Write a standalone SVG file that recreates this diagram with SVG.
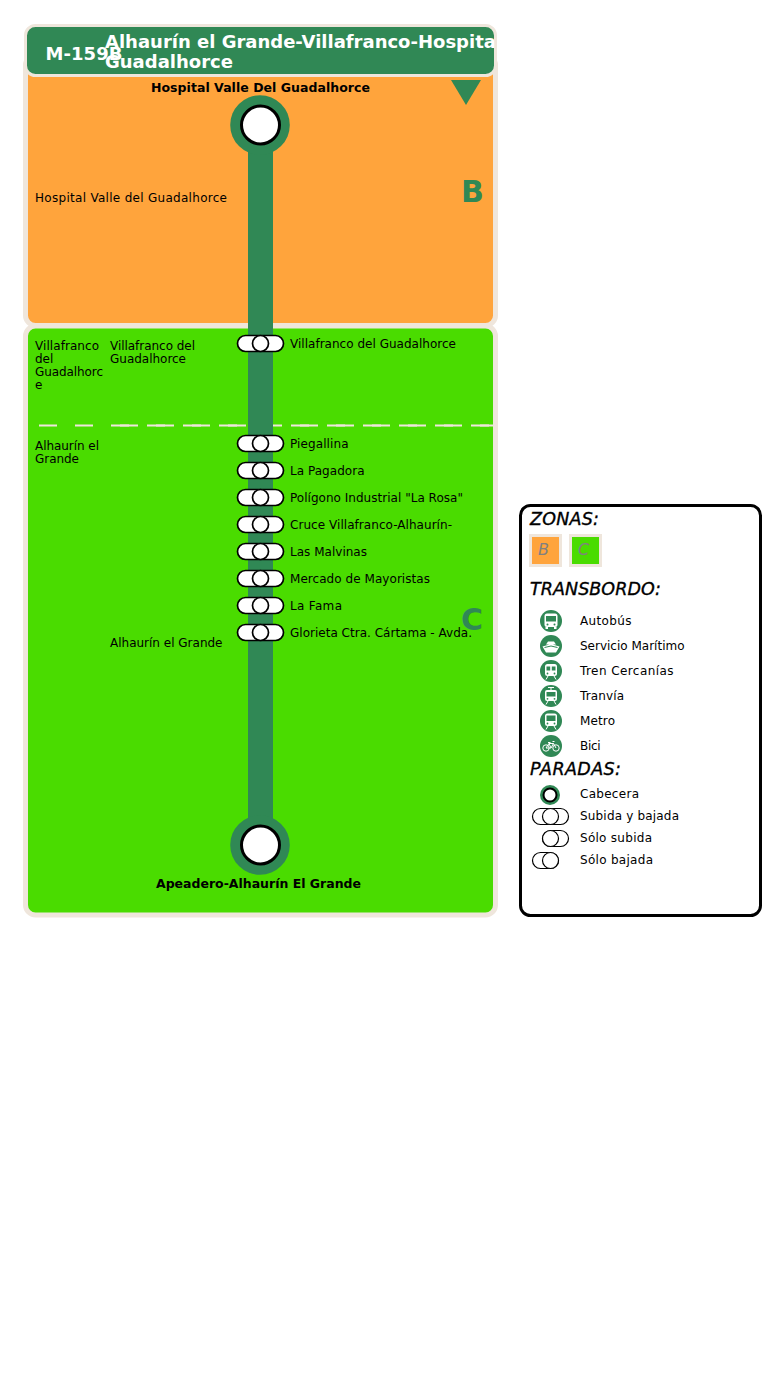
<svg xmlns="http://www.w3.org/2000/svg" width="780" height="1390" viewBox="0 0 780 1390">
<style>
text{font-family:"DejaVu Sans",sans-serif;fill:#000}
.s{font-size:12px}
.b{font-size:12.5px;font-weight:bold}
.t{font-size:18px;font-weight:bold;fill:#fff}
.h{font-size:17.5px;font-style:italic;stroke:#000;stroke-width:.35}
.z{fill:#ffa43c;stroke:#efe6dc;stroke-width:5}
.g{fill:#4adc00;stroke:#efe6dc;stroke-width:5}
.big{font-size:30px;font-weight:bold;fill:#308855}
.lz{font-size:16px;font-style:italic;fill:#808080}
.st{fill:#fff;stroke:#000;stroke-width:1.7}
.lg{fill:#fff;stroke:#000;stroke-width:1.2}
.ic{fill:#308855}
.w{fill:#fff}
.wl{fill:none;stroke:#fff;stroke-width:1}
.dash{fill:none;stroke:#efe6dc;stroke-width:2;stroke-dasharray:18 18}
</style>
<defs>
<clipPath id="hc"><rect x="25" y="24" width="469.500" height="52"/></clipPath>
<g id="stop"><rect class="st" x="-23" y="-8" width="46" height="16" rx="8"/><circle class="st" cx="0" cy="0" r="8"/></g>
<g id="head"><circle cx="-.5" r="29.800" fill="#308855"/><circle r="19" fill="#fff" stroke="#000" stroke-width="3"/></g>
</defs>
<g id="zone-b"><rect class="z" x="25.500" y="55" width="470" height="270.500" rx="10"/><text class="big" x="461" y="202">B</text></g>
<g id="zone-c"><rect class="g" x="25.500" y="326" width="470" height="589" rx="10"/><text class="big" x="461" y="630">C</text></g>
<g id="zone-divider"><path class="dash" d="M39 425.500H494"/><path class="dash" d="M120 425.500H494"/></g>
<g id="header"><rect x="25.500" y="25.500" width="470" height="50" rx="10" fill="#308855" stroke="#efe6dc" stroke-width="3"/>
<text class="t" x="45.500" y="60" textLength="77">M-159B</text>
<g clip-path="url(#hc)"><text class="t" x="105" y="48">Alhaurín el Grande-Villafranco-Hospital Valle del</text></g>
<text class="t" x="105" y="68" textLength="128">Guadalhorce</text></g>
<polygon id="direction" points="451,80 481,80 466,105" fill="#308855"/>
<g id="connectors"><rect x="248" y="125" width="25" height="720" fill="#308855"/></g>
<g id="stop-hospital"><use href="#head" x="260.500" y="125"/><text class="b" x="151" y="92" textLength="219">Hospital Valle Del Guadalhorce</text></g>
<g id="stop-apeadero"><use href="#head" x="260.500" y="845"/><text class="b" x="156" y="888" textLength="205">Apeadero-Alhaurín El Grande</text></g>
<g id="stop-1"><use href="#stop" x="260.500" y="343.500"/><text class="s" x="290" y="348" textLength="166">Villafranco del Guadalhorce</text></g>
<g id="stop-2"><use href="#stop" x="260.500" y="443.500"/><text class="s" x="290" y="448" textLength="58.500">Piegallina</text></g>
<g id="stop-3"><use href="#stop" x="260.500" y="470.500"/><text class="s" x="290" y="475" textLength="74.500">La Pagadora</text></g>
<g id="stop-4"><use href="#stop" x="260.500" y="497.500"/><text class="s" x="290" y="502" textLength="173">Polígono Industrial "La Rosa"</text></g>
<g id="stop-5"><use href="#stop" x="260.500" y="524.500"/><text class="s" x="290" y="529" textLength="162">Cruce Villafranco-Alhaurín-</text></g>
<g id="stop-6"><use href="#stop" x="260.500" y="551.500"/><text class="s" x="290" y="556" textLength="77">Las Malvinas</text></g>
<g id="stop-7"><use href="#stop" x="260.500" y="578.500"/><text class="s" x="290" y="583" textLength="140">Mercado de Mayoristas</text></g>
<g id="stop-8"><use href="#stop" x="260.500" y="605.500"/><text class="s" x="290" y="610" textLength="52">La Fama</text></g>
<g id="stop-9"><use href="#stop" x="260.500" y="632.500"/><text class="s" x="290" y="637" textLength="182">Glorieta Ctra. Cártama - Avda.</text></g>
<g id="labels">
<text class="s" x="35" y="202" textLength="192">Hospital Valle del Guadalhorce</text>
<text class="s" x="35" y="350" textLength="64">Villafranco</text><text class="s" x="35" y="363">del</text><text class="s" x="35" y="376" textLength="68">Guadalhorc</text><text class="s" x="35" y="389">e</text>
<text class="s" x="110" y="350" textLength="85">Villafranco del</text><text class="s" x="110" y="363" textLength="76">Guadalhorce</text>
<text class="s" x="35" y="450" textLength="64">Alhaurín el</text><text class="s" x="35" y="463" textLength="44">Grande</text>
<text class="s" x="110" y="647" textLength="112.500">Alhaurín el Grande</text>
</g>
<g id="legend">
<rect x="520.500" y="505.500" width="240" height="410" rx="10" fill="#fff" stroke="#000" stroke-width="3"/>
<text class="h" x="530" y="525" textLength="69">ZONAS:</text>
<rect class="z" x="530.500" y="535.500" width="30" height="30" style="stroke-width:3"/><text class="lz" x="538" y="555">B</text>
<rect class="g" x="570.500" y="535.500" width="30" height="30" style="stroke-width:3"/><text class="lz" x="578" y="555">C</text>
<text class="h" x="530" y="595" textLength="131">TRANSBORDO:</text>
<g id="ic-bus"><circle class="ic" cx="551" cy="621" r="11"/><rect class="w" x="544.500" y="613.500" width="13" height="13.500" rx="2.500"/><rect class="ic" x="546" y="616" width="10" height="5.500"/><circle class="ic" cx="547.500" cy="624.500" r="1"/><circle class="ic" cx="554.500" cy="624.500" r="1"/><rect class="w" x="545.500" y="627" width="2.500" height="2"/><rect class="w" x="554" y="627" width="2.500" height="2"/></g>
<text class="s" x="580" y="625" textLength="51.500">Autobús</text>
<g id="ic-boat"><circle class="ic" cx="551" cy="646" r="11"/><path class="w" d="M546 644.500L548 641.500H554L556 644.500ZM542.500 646.500L551 644 559.500 646.500 556 652.500H546Z"/><path d="M544.500 647.500L551 646 557.500 647.500" fill="none" stroke="#308855" stroke-width="1"/></g>
<text class="s" x="580" y="650" textLength="104.500">Servicio Marítimo</text>
<g id="ic-train"><circle class="ic" cx="551" cy="671" r="11"/><rect class="w" x="545" y="664" width="12" height="12" rx="2.500"/><path class="ic" d="M546.500 666.500h3.700v4h-3.700zM551.800 666.500h3.700v4h-3.700z"/><circle class="ic" cx="547.500" cy="673.500" r=".9"/><circle class="ic" cx="554.500" cy="673.500" r=".9"/><path class="wl" d="M546 679.500l2-3.500M556 679.500l-2-3.500"/></g>
<text class="s" x="580" y="675" textLength="93.500">Tren Cercanías</text>
<g id="ic-tram"><circle class="ic" cx="551" cy="696" r="11"/><rect class="w" x="545" y="690" width="12" height="11" rx="2"/><rect class="ic" x="546.500" y="692" width="9" height="4.500"/><circle class="ic" cx="547.500" cy="698.800" r=".9"/><circle class="ic" cx="554.500" cy="698.800" r=".9"/><path class="wl" d="M548 687.500h6M551 687.500v3M546 704.500l2-3.500M556 704.500l-2-3.500"/></g>
<text class="s" x="580" y="700" textLength="44">Tranvía</text>
<g id="ic-metro"><circle class="ic" cx="551" cy="721" r="11"/><rect class="w" x="545" y="713.500" width="12" height="12.500" rx="2.500"/><rect class="ic" x="546.500" y="715.500" width="9" height="5.500"/><circle class="ic" cx="547.500" cy="723.500" r=".9"/><circle class="ic" cx="554.500" cy="723.500" r=".9"/><path class="wl" d="M546 729.500l2-3.500M556 729.500l-2-3.500"/></g>
<text class="s" x="580" y="725" textLength="35">Metro</text>
<g id="ic-bike"><circle class="ic" cx="551" cy="746" r="11"/><circle class="wl" cx="546" cy="748" r="3.200"/><circle class="wl" cx="556" cy="748" r="3.200"/><path class="wl" d="M546 748l3-4.500h4.500l2.500 4.500M549 743.500l2 4.500h-5M553.500 743.500l-2.500 4.500M548 742.500h2.500M552.500 741.500h2"/></g>
<text class="s" x="580" y="750" textLength="20.500">Bici</text>
<text class="h" x="530" y="775" textLength="91">PARADAS:</text>
<g id="lg-head"><circle cx="550" cy="795" r="10" fill="#308855"/><circle cx="550" cy="795" r="6.500" fill="#fff" stroke="#000" stroke-width="2"/></g>
<text class="s" x="580" y="798" textLength="59">Cabecera</text>
<g id="lg-both"><rect class="lg" x="532.500" y="808.500" width="36" height="16" rx="8"/><circle class="lg" cx="550.500" cy="816.500" r="8"/></g>
<text class="s" x="580" y="820" textLength="99">Subida y bajada</text>
<g id="lg-up"><rect class="lg" x="542.500" y="830.500" width="26" height="16" rx="8"/><circle class="lg" cx="550.500" cy="838.500" r="8"/></g>
<text class="s" x="580" y="842" textLength="72">Sólo subida</text>
<g id="lg-down"><rect class="lg" x="532.500" y="852.500" width="26" height="16" rx="8"/><circle class="lg" cx="550.500" cy="860.500" r="8"/></g>
<text class="s" x="580" y="864" textLength="73">Sólo bajada</text>
</g>
</svg>
